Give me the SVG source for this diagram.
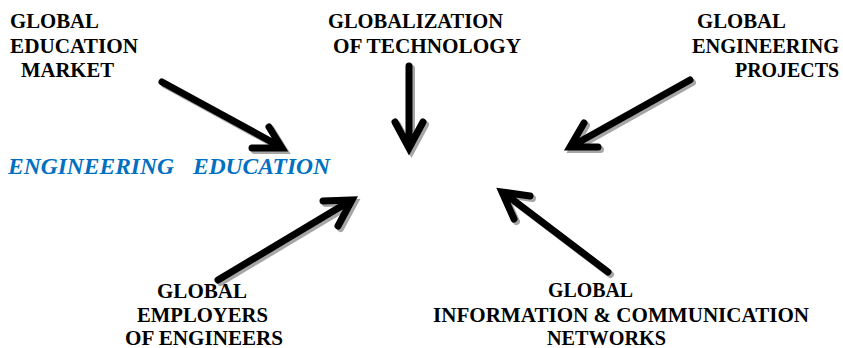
<svg xmlns="http://www.w3.org/2000/svg" xmlns:xlink="http://www.w3.org/1999/xlink" width="843" height="348" viewBox="0 0 843 348">
<style>
.lbl{font-family:'Liberation Serif',Tinos,'Times New Roman','DejaVu Serif','Noto Serif',serif;font-weight:700;font-size:20px;fill:#000}
.core{font-family:'Liberation Serif',Tinos,'Times New Roman','DejaVu Serif','Noto Serif',serif;font-weight:700;font-style:italic;font-size:22.5px;fill:#0070C0}
.arr{fill:none;stroke-width:7;stroke-linecap:round;stroke-linejoin:miter;stroke-miterlimit:10}
.shadow{stroke:#a6a6a6}
.ink{stroke:#000}
</style>
<defs>
<path id="a1" d="M162,82 L281,147 M252,148 L282,148 L269,127"/>
<path id="a2" d="M409,66 L409,146 M395,122 L409,148 L423,122"/>
<path id="a3" d="M690,80 L572,146 M598,147 L570,147 L584,123"/>
<path id="a4" d="M218,280 L350,201 M323,201 L352,200 L338,226"/>
<path id="a5" d="M608,272 L504,193 M530,196 L502,192 L514,219"/>
</defs>
<g id="connectors">
<g class="arr shadow" transform="translate(2.5,2.5)">
<use xlink:href="#a1"/><use xlink:href="#a2"/><use xlink:href="#a3"/><use xlink:href="#a4"/><use xlink:href="#a5"/>
</g>
<g class="arr ink">
<use xlink:href="#a1"/><use xlink:href="#a2"/><use xlink:href="#a3"/><use xlink:href="#a4"/><use xlink:href="#a5"/>
</g>
</g>
<g id="node-core">
<text class="core" x="8" y="174"><tspan textLength="166" lengthAdjust="spacingAndGlyphs">ENGINEERING</tspan><tspan x="193" textLength="137" lengthAdjust="spacingAndGlyphs">EDUCATION</tspan></text>
</g>
<g id="node-market">
<text class="lbl" x="10" y="28" textLength="89" lengthAdjust="spacingAndGlyphs">GLOBAL</text>
<text class="lbl" x="10" y="53" textLength="128" lengthAdjust="spacingAndGlyphs">EDUCATION</text>
<text class="lbl" x="21" y="77" textLength="93" lengthAdjust="spacingAndGlyphs">MARKET</text>
</g>
<g id="node-technology">
<text class="lbl" x="328" y="28" textLength="175" lengthAdjust="spacingAndGlyphs">GLOBALIZATION</text>
<text class="lbl" x="333" y="53" textLength="188" lengthAdjust="spacingAndGlyphs">OF TECHNOLOGY</text>
</g>
<g id="node-projects">
<text class="lbl" x="697" y="28" textLength="89" lengthAdjust="spacingAndGlyphs">GLOBAL</text>
<text class="lbl" x="692" y="53" textLength="147" lengthAdjust="spacingAndGlyphs">ENGINEERING</text>
<text class="lbl" x="735" y="77" textLength="104" lengthAdjust="spacingAndGlyphs">PROJECTS</text>
</g>
<g id="node-employers">
<text class="lbl" x="157" y="298" textLength="90" lengthAdjust="spacingAndGlyphs">GLOBAL</text>
<text class="lbl" x="137" y="322" textLength="131" lengthAdjust="spacingAndGlyphs">EMPLOYERS</text>
<text class="lbl" x="125" y="345" textLength="158" lengthAdjust="spacingAndGlyphs">OF ENGINEERS</text>
</g>
<g id="node-networks">
<text class="lbl" x="548" y="297" textLength="85" lengthAdjust="spacingAndGlyphs">GLOBAL</text>
<text class="lbl" x="433" y="322" textLength="376" lengthAdjust="spacingAndGlyphs">INFORMATION &amp; COMMUNICATION</text>
<text class="lbl" x="547" y="345" textLength="119" lengthAdjust="spacingAndGlyphs">NETWORKS</text>
</g>
</svg>
